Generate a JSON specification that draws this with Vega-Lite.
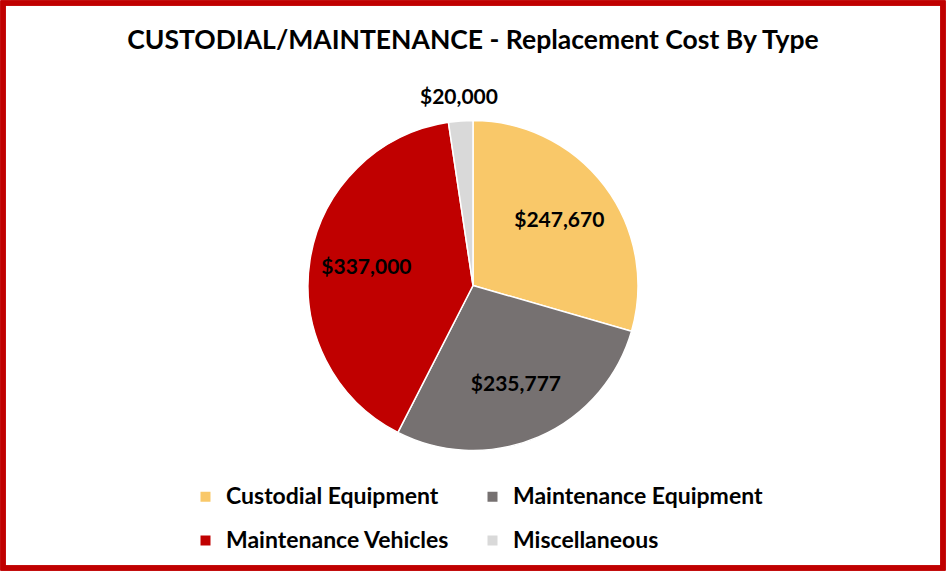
{
  "$schema": "https://vega.github.io/schema/vega-lite/v6.json",
  "width": 946,
  "height": 571,
  "autosize": {"type": "fit", "contains": "padding"},
  "padding": 0,
  "background": "white",
  "title": {
    "text": "CUSTODIAL/MAINTENANCE - Replacement Cost By Type",
    "font": "Lato",
    "fontSize": 26.5,
    "fontWeight": "bold",
    "color": "#000000",
    "anchor": "middle",
    "baseline": "middle",
    "offset": -67
  },
  "data": {
    "values": [
      {"type": "Custodial Equipment", "cost": 247670, "order": 1},
      {"type": "Maintenance Equipment", "cost": 235777, "order": 2},
      {"type": "Maintenance Vehicles", "cost": 337000, "order": 3},
      {"type": "Miscellaneous", "cost": 20000, "order": 4}
    ]
  },
  "layer": [
    {
      "mark": {"type": "rect", "filled": false, "stroke": "#C00000", "strokeWidth": 5}
    },
    {
      "mark": {"type": "arc", "outerRadius": 165, "stroke": "white", "strokeWidth": 1.5},
      "encoding": {
        "theta": {"field": "cost", "type": "quantitative", "stack": true},
        "order": {"field": "order", "type": "quantitative"},
        "color": {
          "field": "type",
          "type": "nominal",
          "sort": ["Custodial Equipment", "Maintenance Equipment", "Maintenance Vehicles", "Miscellaneous"],
          "scale": {
            "domain": ["Custodial Equipment", "Maintenance Equipment", "Maintenance Vehicles", "Miscellaneous"],
            "range": ["#F9C869", "#767171", "#C00000", "#D9D9D9"]
          },
          "legend": {
            "title": null,
            "orient": "none",
            "legendX": 191,
            "legendY": 482,
            "direction": "horizontal",
            "columns": 2,
            "columnPadding": 31,
            "rowPadding": 20,
            "symbolType": "square",
            "symbolSize": 100,
            "symbolStrokeWidth": 0,
            "labelFont": "Lato",
            "labelFontSize": 23,
            "labelFontWeight": "bold",
            "labelColor": "#000000",
            "labelLimit": 400,
            "labelOffset": 9
          }
        }
      }
    },
    {
      "mark": {"type": "text", "font": "Lato", "fontSize": 21, "fontWeight": "bold", "radius": 108},
      "encoding": {
        "theta": {"field": "cost", "type": "quantitative", "stack": true},
        "order": {"field": "order", "type": "quantitative"},
        "text": {"field": "cost", "type": "quantitative", "format": "$,.0f"},
        "color": {"value": "#000000"},
        "opacity": {"condition": {"test": "datum.type !== 'Miscellaneous'", "value": 1}, "value": 0}
      }
    },
    {
      "mark": {"type": "text", "font": "Lato", "fontSize": 21, "fontWeight": "bold", "radius": 188},
      "encoding": {
        "theta": {"field": "cost", "type": "quantitative", "stack": true},
        "order": {"field": "order", "type": "quantitative"},
        "text": {"field": "cost", "type": "quantitative", "format": "$,.0f"},
        "color": {"value": "#000000"},
        "opacity": {"condition": {"test": "datum.type === 'Miscellaneous'", "value": 1}, "value": 0}
      }
    }
  ]
}
